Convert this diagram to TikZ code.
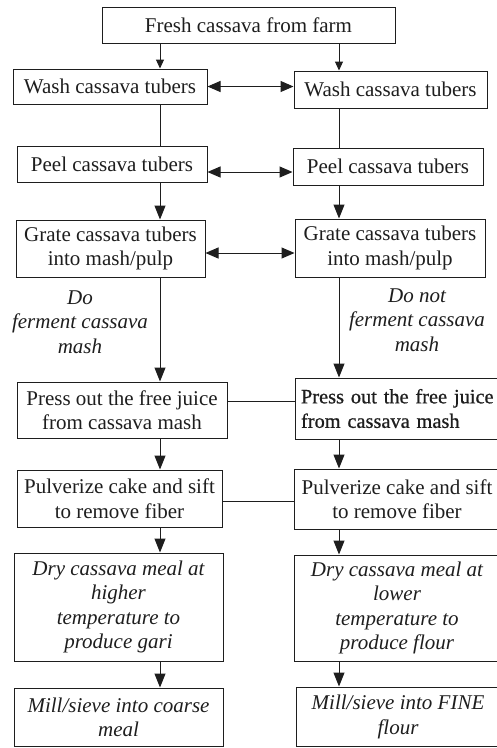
\documentclass[tikz,border=0pt]{standalone}
\usepackage{fontspec}
\setmainfont{Liberation Serif}
\newfontfamily\heavyserif[FakeBold=0.7]{Liberation Serif}
\usetikzlibrary{arrows.meta}
\definecolor{ink}{RGB}{30,30,30}
\begin{document}
\begin{tikzpicture}[x=1pt,y=-1pt,
  box/.style={draw=ink, line width=1pt, rectangle, inner sep=0pt, align=center,
    font=\fontsize{21}{24.5}\selectfont, text=ink},
  ibox/.style={box, font=\fontsize{21}{24.5}\selectfont\itshape},
  lab/.style={align=center, font=\fontsize{21}{24.5}\selectfont\itshape, text=ink, inner sep=0pt},
  link/.style={draw=ink, line width=1pt},
  arr/.style={link, -{Triangle[length=14pt,width=11pt]}},
  sarr/.style={link, -{Triangle[length=9pt,width=8pt]}},
  darr/.style={link, {Triangle[length=13pt,width=11pt]}-{Triangle[length=13pt,width=11pt]}}]
\clip (0,0) rectangle (497,748);
\fill[white] (0,0) rectangle (497,748);
\coordinate (colL) at (160,0);
\coordinate (colR) at (339,0);
% boxes
\node[box, minimum width=293pt, minimum height=36pt] (top) at (248.5,25) {Fresh cassava from farm};
\node[box, minimum width=194pt, minimum height=35pt] (wL) at (110,86.5) {Wash cassava tubers};
\node[box, minimum width=193pt, minimum height=37pt] (wR) at (390.5,89.5) {Wash cassava tubers};
\node[box, minimum width=190pt, minimum height=36pt] (pL) at (112,164) {Peel cassava tubers};
\node[box, minimum width=190pt, minimum height=37pt] (pR) at (388,166.5) {Peel cassava tubers};
\node[box, minimum width=189pt, minimum height=57pt] (gL) at (110.5,248.5) {Grate cassava tubers\\into mash/pulp};
\node[box, minimum width=190pt, minimum height=58pt] (gR) at (390,248) {Grate cassava tubers\\into mash/pulp};
\node[lab] (labL) at (80,322) {Do\\ferment cassava\\mash};
\node[lab] (labR) at (417,320) {Do not\\ferment cassava\\mash};
\node[box, minimum width=210pt, minimum height=56pt] (prL) at (122,410) {Press out the free juice\\from cassava mash};
\node[box, align=left, text width=200pt, inner xsep=6pt, minimum height=61pt,
      font=\fontsize{20.4}{24.5}\selectfont\heavyserif] (prR) at (401,408.5) {Press out the free juice\\from cassava mash};
\node[box, minimum width=205pt, minimum height=57pt] (puL) at (119.5,498.5) {Pulverize cake and sift\\to remove fiber};
\node[box, minimum width=206pt, minimum height=60pt] (puR) at (397,499) {Pulverize cake and sift\\to remove fiber};
\node[ibox, minimum width=209pt, minimum height=108pt] (dL) at (118.5,607) {Dry cassava meal at\\higher\\temperature to\\produce gari};
\node[ibox, minimum width=206pt, minimum height=106pt] (dR) at (397,608) {Dry cassava meal at\\lower\\temperature to\\produce flour};
\node[ibox, minimum width=209pt, minimum height=58.5pt] (mL) at (118.5,717.25) {Mill/sieve into coarse\\meal};
\node[ibox, minimum width=204pt, minimum height=59.5pt] (mR) at (398,716.75) {Mill/sieve into FINE\\flour};
% vertical connectors
\draw[sarr] (top.south -| colL) -- (wL.north -| colL);
\draw[sarr] (top.south -| colR) -- (wR.north -| colR);
\draw[link] (wL.south -| colL) -- (pL.north -| colL);
\draw[link] (wR.south -| colR) -- (pR.north -| colR);
\draw[arr] (pL.south -| colL) -- (gL.north -| colL);
\draw[arr] (pR.south -| colR) -- (gR.north -| colR);
\draw[arr] (gL.south -| colL) -- (prL.north -| colL);
\draw[arr] (gR.south -| colR) -- (prR.north -| colR);
\draw[arr] (prL.south -| colL) -- (puL.north -| colL);
\draw[arr] (prR.south -| colR) -- (puR.north -| colR);
\draw[arr] (puL.south -| colL) -- (dL.north -| colL);
\draw[arr] (puR.south -| colR) -- (dR.north -| colR);
\draw[arr] (dL.south -| colL) -- (mL.north -| colL);
\draw[arr] (dR.south -| colR) -- (mR.north -| colR);
% horizontal connectors
\draw[darr] (wL.east) -- (wL.east -| wR.west);
\draw[darr] ([yshift=-8pt]pL.east) -- ([yshift=-8pt]pL.east -| pR.west);
\draw[darr] ([yshift=-4.5pt]gL.east) -- ([yshift=-4.5pt]gL.east -| gR.west);
\draw[link] ([yshift=9pt]prL.east) -- ([yshift=9pt]prL.east -| prR.west);
\draw[link] ([yshift=-2.5pt]puL.east) -- ([yshift=-2.5pt]puL.east -| puR.west);
\end{tikzpicture}
\end{document}
